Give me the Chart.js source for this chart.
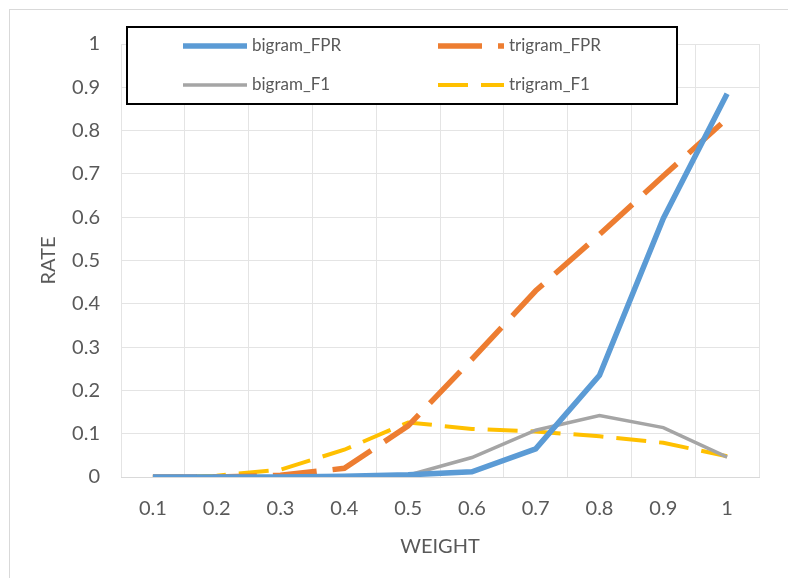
<!DOCTYPE html>
<html>
<head>
<meta charset="utf-8">
<script src="https://cdn.jsdelivr.net/npm/chart.js@4/dist/chart.umd.min.js"></script>
<style>
  body { margin: 0; background: #fff; }
  #wrap { width: 788px; height: 578px; }
</style>
</head>
<body>
<div id="wrap"><canvas id="rateChart" width="788" height="578"></canvas></div>
<script>
// weight steps on the x axis
const weights = ['0.1', '0.2', '0.3', '0.4', '0.5', '0.6', '0.7', '0.8', '0.9', '1'];

// rates per weight
const bigramFPR  = [0, 0, 0, 0.002, 0.005, 0.012, 0.065, 0.235, 0.597, 0.885];
const trigramFPR = [0, 0, 0.004, 0.02, 0.118, 0.272, 0.43, 0.56, 0.695, 0.828];
const bigramF1   = [0, 0, 0, 0, 0.004, 0.045, 0.108, 0.142, 0.114, 0.046];
const trigramF1  = [0, 0.003, 0.017, 0.063, 0.126, 0.111, 0.105, 0.094, 0.079, 0.048];

const rateTicks = [0, 0.1, 0.2, 0.3, 0.4, 0.5, 0.6, 0.7, 0.8, 0.9, 1];

const textColor = '#595959';
const gridColor = '#e4e4e4';

// thin frame round the whole chart
const framePlugin = {
  id: 'frame',
  beforeDraw(chart) {
    const c = chart.ctx;
    c.save();
    c.fillStyle = '#fff';
    c.fillRect(0, 0, chart.width, chart.height);
    c.strokeStyle = '#d9d9d9';
    c.lineWidth = 1;
    c.strokeRect(9.5, 9.5, chart.width, chart.height);
    c.restore();
  }
};

// 2x2 legend in a black box over the plot
const boxLegend = {
  id: 'boxLegend',
  afterDraw(chart) {
    const c = chart.ctx;
    const box = { x: 127, y: 27, w: 550, h: 77 };
    c.save();
    c.fillStyle = '#fff';
    c.fillRect(box.x, box.y, box.w, box.h);
    c.strokeStyle = '#000';
    c.lineWidth = 2;
    c.strokeRect(box.x, box.y, box.w, box.h);

    const cols = [{ x0: 183, x1: 247, tx: 252 }, { x0: 438, x1: 504, tx: 509 }];
    const rows = [46, 85];
    c.font = '17px Lato';
    c.textBaseline = 'middle';
    chart.data.datasets.forEach((ds, i) => {
      const col = cols[i % 2];
      const y = rows[Math.floor(i / 2)];
      c.beginPath();
      c.strokeStyle = ds.borderColor;
      c.lineWidth = ds.borderWidth;
      c.setLineDash(ds.borderDash || []);
      c.moveTo(col.x0, y);
      c.lineTo(col.x1, y);
      c.stroke();
      c.setLineDash([]);
      c.fillStyle = textColor;
      c.fillText(ds.label, col.tx, y);
    });
    c.restore();
  }
};

const ctx = document.getElementById('rateChart').getContext('2d');

new Chart(ctx, {
  type: 'line',
  data: {
    labels: weights,
    datasets: [
      { label: 'bigram_FPR', data: bigramFPR, borderColor: '#5b9bd5', borderWidth: 5.5 },
      { label: 'trigram_FPR', data: trigramFPR, borderColor: '#ed7d31', borderWidth: 5.5, borderDash: [44, 16] },
      { label: 'bigram_F1', data: bigramF1, borderColor: '#a5a5a5', borderWidth: 3.5 },
      { label: 'trigram_F1', data: trigramF1, borderColor: '#ffc000', borderWidth: 4, borderDash: [30, 13] }
    ]
  },
  options: {
    responsive: false,
    animation: false,
    layout: { padding: { left: 0, top: 44, right: 29, bottom: 0 } },
    elements: {
      point: { radius: 0 },
      line: { tension: 0, fill: false, borderCapStyle: 'butt' }
    },
    plugins: {
      legend: { display: false },
      tooltip: { enabled: false }
    },
    scales: {
      x: {
        offset: true,
        grid: { color: gridColor, offset: true, drawTicks: false },
        border: { color: '#d9d9d9' },
        ticks: { color: textColor, font: { family: 'Lato', size: 20 }, padding: 20, maxRotation: 0 },
        title: { display: true, text: 'WEIGHT', color: textColor, font: { family: 'Lato', size: 20 }, padding: { top: 0, bottom: 19 } },
        afterFit(scale) { scale.height = 101; }
      },
      y: {
        min: 0,
        max: 1,
        grid: { color: gridColor, drawTicks: false },
        border: { display: false },
        afterBuildTicks(scale) { scale.ticks = rateTicks.map(v => ({ value: v })); },
        ticks: {
          color: textColor,
          font: { family: 'Lato', size: 20 },
          padding: 21,
          callback: v => String(Number(v.toFixed(1)))
        },
        title: { display: true, text: 'RATE', color: textColor, font: { family: 'Lato', size: 20 }, padding: { top: 37, bottom: 0 } },
        afterFit(scale) { scale.width = 121; }
      }
    }
  },
  plugins: [framePlugin, boxLegend]
});
</script>
</body>
</html>
